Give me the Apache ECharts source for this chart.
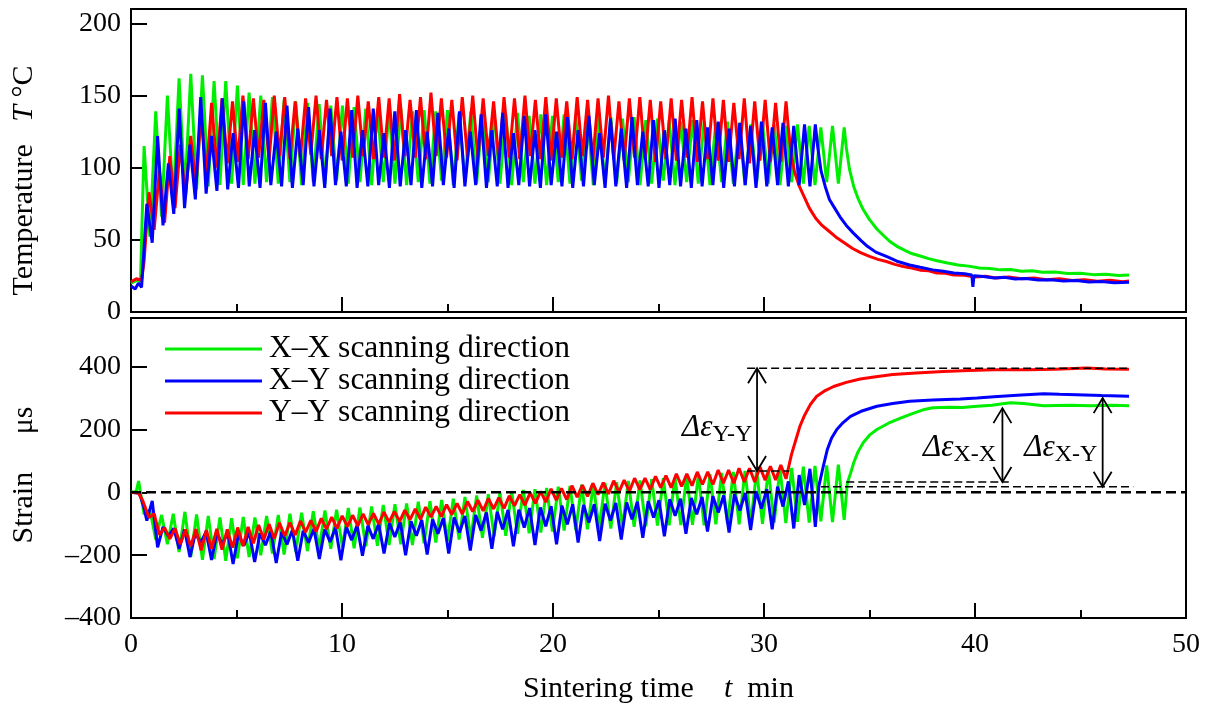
<!DOCTYPE html>
<html>
<head>
<meta charset="utf-8">
<script src="https://cdn.jsdelivr.net/npm/echarts@6/dist/echarts.min.js"></script>
<style>html,body{margin:0;background:#fff}#chart{width:1208px;height:705px}</style>
</head>
<body>
<div id="chart"></div>
<script>
var SERIF = '"Liberation Serif", "Times New Roman", serif';
var names = ['X–X scanning direction', 'X–Y scanning direction', 'Y–Y scanning direction'];

// cycle start (min) and cycle length (min) for each scan direction
var xxStart = 0.62, xxCycle = 0.553;
var xyStart = 0.75, xyCycle = 0.511;
var yyStart = 0.85, yyCycle = 0.495;

// temperature, degC: peaks at each cycle start, troughs half a cycle later
var xxTempPre = [[0, 20], [0.3, 22], [0.45, 21]];
var xxTempPeak = [115, 139, 150, 162, 165, 164, 160, 160, 157, 152,
  150, 149, 147, 146, 145, 144, 143, 143, 142, 141,
  141, 140, 141, 139, 140, 139, 140, 138, 139, 138,
  138, 137, 138, 136, 137, 136, 137, 135, 136, 135,
  135, 134, 135, 133, 134, 133, 132, 133, 132, 131,
  132, 131, 130, 131, 130, 129, 130, 129, 128, 129,
  128];
var xxTempLow = [52, 66, 76, 82, 85, 87, 88, 89, 88, 89,
  90, 89, 90, 88, 90, 89, 91, 89, 90, 88,
  90, 89, 88, 90, 89, 91, 88, 90, 89, 90,
  89, 88, 90, 89, 88, 90, 89, 91, 88, 90,
  89, 90, 88, 89, 91, 88, 90, 89, 88, 90,
  89, 88, 90, 89, 88, 90, 89, 88, 90, 89];
var xxCool = [[33.9, 114], [34.05, 99], [34.25, 87], [34.45, 79], [34.7, 71], [35.0, 64], [35.35, 57.5],
  [35.7, 52.5], [36.0, 48.5], [36.3, 45.5], [36.7, 42.5], [37.0, 40.5], [37.4, 38.8], [37.8, 37],
  [38.2, 35.5], [38.7, 34], [39.2, 32.6], [39.7, 31.8], [40.2, 30.5], [40.7, 30.2], [41.2, 29.2],
  [41.7, 29.4], [42.2, 28.3], [42.7, 28.6], [43.2, 27.5], [43.8, 27.8], [44.4, 26.7], [45.0, 26.9],
  [45.6, 25.9], [46.2, 26.2], [46.8, 25.3], [47.3, 25.6]];

var xyTempPre = [[0, 18], [0.2, 16], [0.35, 20], [0.5, 17], [0.6, 40]];
var xyTempPeak = [75, 122, 103, 141, 116, 149, 122, 148, 124, 146,
  126, 145, 125, 143, 127, 142, 126, 141, 125, 140,
  126, 141, 124, 139, 126, 140, 125, 138, 127, 139,
  125, 137, 126, 138, 124, 136, 126, 137, 125, 135,
  126, 136, 124, 134, 127, 135, 125, 133, 126, 134,
  127, 133, 128, 132, 127, 131, 129, 132, 128, 131,
  129, 130, 130];
var xyTempLow = [48, 60, 68, 72, 78, 82, 84, 85, 86, 87,
  86, 88, 87, 86, 88, 87, 86, 88, 87, 86,
  87, 88, 86, 87, 88, 86, 87, 88, 86, 87,
  88, 86, 87, 86, 88, 87, 86, 88, 87, 86,
  87, 88, 86, 87, 86, 88, 87, 86, 88, 87,
  86, 87, 88, 86, 87, 88, 86, 87, 88, 87,
  88, 87];
var xyCool = [[32.55, 114], [32.7, 98], [32.9, 87], [33.1, 78], [33.35, 72], [33.6, 66], [33.9, 60],
  [34.25, 54.5], [34.6, 49.5], [34.9, 45.5], [35.3, 41.5], [35.8, 38.5], [36.3, 35.2], [36.9, 32.6],
  [37.4, 31], [38.0, 29.2], [38.5, 28.2], [39.0, 27], [39.5, 26.5], [39.85, 25.6], [39.9, 17.5],
  [39.95, 25.2], [40.4, 24.6], [40.9, 23.6], [41.4, 24], [41.9, 22.8], [42.4, 23.2], [43.0, 22.2],
  [43.6, 22.4], [44.2, 21.4], [44.8, 21.8], [45.4, 20.8], [46.0, 21.2], [46.6, 20.2], [47.3, 20.6]];

var yyTempPre = [[0, 21], [0.25, 23], [0.5, 22], [0.62, 35]];
var yyTempPeak = [83, 98, 108, 116, 122, 137, 145, 148, 146, 150,
  148, 147, 150, 149, 146, 148, 150, 147, 149, 148,
  150, 146, 149, 148, 151, 147, 149, 152, 148, 147,
  149, 150, 148, 146, 149, 148, 150, 147, 149, 148,
  146, 149, 147, 148, 150, 146, 148, 149, 147, 146,
  148, 147, 149, 146, 148, 147, 145, 148, 146, 147,
  145, 146];
var yyTempLow = [57, 62, 72, 80, 88, 95, 100, 103, 104, 106,
  107, 105, 108, 106, 107, 109, 106, 108, 105, 107,
  108, 106, 107, 105, 108, 107, 106, 108, 107, 105,
  107, 106, 108, 105, 107, 106, 108, 106, 105, 107,
  106, 108, 105, 107, 106, 105, 107, 106, 104, 106,
  105, 107, 104, 106, 105, 104, 106, 103, 105, 104,
  104];
var yyCool = [[31.15, 128], [31.3, 108], [31.45, 97], [31.65, 88], [31.9, 80], [32.15, 72], [32.45, 65],
  [32.75, 60], [33.0, 57], [33.4, 52], [33.8, 48], [34.2, 44], [34.6, 41], [35.0, 38.5], [35.4, 36.5],
  [35.8, 35], [36.2, 33], [36.6, 31.5], [37.0, 30.5], [37.4, 29], [37.8, 28.5], [38.2, 27], [38.6, 26.8],
  [39.0, 25.6], [39.5, 25.4], [40.0, 24.2], [40.5, 24.8], [41.0, 23.6], [41.6, 24.2], [42.2, 23],
  [42.8, 23.6], [43.4, 22.4], [44.0, 23], [44.6, 21.8], [45.2, 22.4], [45.8, 21.4], [46.4, 22],
  [47.0, 21], [47.3, 21.5]];

// strain, microstrain: dips at each cycle start, highs half a cycle later
var xxStrainPre = [[0, 0], [0.25, 3], [0.36, 36], [0.46, -5]];
var xxStrainLow = [-70, -150, -165, -190, -205, -215, -212, -218, -210, -206,
  -200, -195, -198, -190, -187, -182, -180, -176, -178, -172,
  -170, -168, -165, -168, -162, -160, -155, -150, -148, -145,
  -140, -138, -132, -130, -128, -125, -122, -120, -118, -116,
  -115, -112, -110, -108, -106, -105, -104, -103, -105, -102,
  -100, -102, -98, -100, -96, -98, -94, -96, -92, -95,
  -88];
var xxStrainHigh = [-55, -72, -68, -62, -70, -75, -80, -82, -78, -80,
  -75, -72, -68, -65, -60, -58, -55, -50, -48, -45,
  -40, -38, -35, -30, -28, -24, -20, -15, -10, -6,
  0, 4, 8, 10, 14, 18, 20, 24, 26, 30,
  32, 36, 38, 42, 45, 48, 52, 55, 58, 62,
  65, 68, 70, 73, 76, 78, 82, 84, 86, 88];
var xxRise = [[33.95, 30], [34.1, 60], [34.25, 94], [34.45, 128], [34.7, 158], [35.0, 182], [35.35, 200],
  [35.9, 220], [36.5, 237], [37.0, 250], [37.6, 264], [38.0, 269], [38.8, 271], [39.4, 270], [40.1, 274],
  [40.8, 277], [41.3, 282], [41.7, 285], [42.3, 283], [43.25, 276], [44.5, 277], [45.5, 276],
  [46.5, 277], [47.3, 276]];

var xyStrainPre = [[0, 0], [0.4, -3], [0.6, -45]];
var xyStrainLow = [-90, -175, -140, -180, -206, -160, -215, -165, -228, -170,
  -222, -168, -225, -166, -218, -160, -212, -158, -216, -152,
  -202, -148, -195, -142, -200, -138, -198, -132, -195, -128,
  -185, -122, -180, -118, -172, -112, -168, -108, -165, -102,
  -160, -96, -155, -90, -150, -86, -145, -80, -140, -75,
  -132, -70, -125, -64, -128, -58, -120, -52, -118, -45,
  -115, -40, -110];
var xyStrainHigh = [-27, -110, -115, -118, -130, -125, -130, -128, -132, -126,
  -130, -124, -126, -120, -122, -116, -118, -112, -110, -105,
  -106, -100, -98, -94, -92, -88, -86, -82, -80, -75,
  -72, -64, -62, -56, -55, -50, -48, -44, -42, -38,
  -40, -38, -36, -34, -32, -30, -28, -25, -22, -20,
  -18, -15, -12, -10, -6, -2, 4, 10, 18, 35,
  55, 75];
var xyRise = [[32.6, 20], [32.8, 80], [33.0, 136], [33.2, 172], [33.45, 200], [33.75, 222], [34.1, 242],
  [34.6, 258], [35.35, 274], [36.1, 283], [36.9, 290], [38.0, 294], [39.3, 297], [40.1, 300],
  [40.9, 304], [42.0, 309], [43.25, 314], [44.0, 312], [44.8, 311], [46.0, 308], [47.3, 306]];

var yyStrainPre = [[0, 0], [0.35, -2], [0.55, -25]];
var yyStrainLow = [-80, -135, -148, -165, -172, -185, -180, -182, -176, -171,
  -162, -150, -147, -139, -136, -127, -125, -117, -115, -109,
  -107, -103, -101, -95, -93, -87, -86, -79, -77, -71,
  -69, -61, -59, -53, -51, -43, -41, -35, -31, -25,
  -23, -15, -13, -7, -5, 1, 3, 9, 9, 15,
  15, 19, 21, 25, 25, 29, 29, 33, 33, 39,
  39, 43];
var yyStrainHigh = [-68, -112, -115, -118, -117, -120, -116, -118, -112, -110,
  -104, -101, -97, -96, -91, -89, -83, -79, -75, -73,
  -69, -67, -63, -61, -57, -53, -47, -45, -39, -35,
  -29, -25, -19, -17, -11, -7, -1, 3, 11, 13,
  21, 23, 29, 31, 37, 39, 45, 45, 51, 53,
  59, 59, 65, 65, 71, 71, 77, 77, 81, 83,
  87];
var yyRise = [[31.3, 120], [31.5, 165], [31.7, 210], [31.9, 242], [32.2, 280], [32.5, 306], [32.9, 324],
  [33.3, 337], [33.9, 350], [34.56, 361], [35.3, 368], [36.1, 375], [37.2, 380], [38.5, 385],
  [39.7, 388], [40.9, 390], [42.5, 390], [43.8, 392], [45.3, 396], [46.2, 393], [47.3, 392]];

// annotation guides in strain coordinates
var guideLines = [[0, 0, 50, 0], [29.2, 395, 47.4, 395], [29.2, 68, 31.2, 68], [33.9, 33, 41.6, 33], [32.7, 18, 47.5, 18]];
var arrows = [[29.67, 395, 68], [41.3, 268, 33], [46.05, 300, 18]];
var deltaLabels = [[29.45, 205, 'Y-Y'], [41.0, 142, 'X-X'], [45.8, 142, 'X-Y']];

function build(pre, t0, step, first, second, tail) {
  var pts = pre.slice();
  for (var i = 0; i < first.length; i++) {
    pts.push([t0 + i * step, first[i]]);
    if (i < second.length) pts.push([t0 + (i + 0.5) * step, second[i]]);
  }
  return pts.concat(tail);
}

function line(name, color, idx, data) {
  return {
    type: 'line', name: name, xAxisIndex: idx, yAxisIndex: idx, data: data,
    symbol: 'none', showSymbol: false, animation: false,
    lineStyle: {width: 3, color: color}, itemStyle: {color: color}
  };
}

var green = '#00ee00', blue = '#0000ff', red = '#ff0000';
var axisLine = {onZero: false, lineStyle: {color: '#000', width: 2}};
var nameRich = {n: {fontFamily: SERIF, fontSize: 30, color: '#000'},
  i: {fontFamily: SERIF, fontSize: 30, fontStyle: 'italic', color: '#000'}};

function xAx(idx, labels) {
  var a = {
    gridIndex: idx, type: 'value', min: 0, max: 50, interval: 10,
    axisLine: axisLine,
    axisTick: {inside: true, length: 15, lineStyle: {color: '#000', width: 2}},
    minorTick: {show: true, splitNumber: 2, length: 8, lineStyle: {color: '#000', width: 2}},
    splitLine: {show: false},
    axisLabel: {show: labels, fontFamily: SERIF, fontSize: 28, color: '#000', margin: 13}
  };
  if (labels) {
    a.name = '{n|Sintering time    }{i|t}{n|  min}';
    a.nameLocation = 'middle';
    a.nameGap = 56;
    a.nameTextStyle = {rich: nameRich};
  }
  return a;
}

function yAx(idx, min, max, step, name, pad) {
  return {
    gridIndex: idx, type: 'value', min: min, max: max, interval: step,
    axisLine: axisLine,
    axisTick: {inside: true, length: 16, lineStyle: {color: '#000', width: 2}},
    splitLine: {show: false},
    axisLabel: {fontFamily: SERIF, fontSize: 28, color: '#000', margin: 10,
      formatter: function (v) {
        if (v % step !== 0) return '';
        return v < 0 ? '–' + Math.abs(v) : String(v);
      }},
    name: name, nameLocation: 'middle', nameGap: 92, nameRotate: 90,
    nameTextStyle: {rich: nameRich, padding: pad}
  };
}

var chart = echarts.init(document.getElementById('chart'));
chart.setOption({
  backgroundColor: '#fff',
  animation: false,
  grid: [
    {left: 131, right: 22, top: 9, height: 303, show: true, borderColor: '#000', borderWidth: 2},
    {left: 131, right: 22, top: 318, height: 303, show: true, borderColor: '#000', borderWidth: 2}
  ],
  legend: {
    data: names, orient: 'vertical', left: 160, top: 328,
    icon: 'rect', itemWidth: 97, itemHeight: 3, itemGap: 0,
    textStyle: {fontFamily: SERIF, fontSize: 31.5, lineHeight: 31, color: '#000', padding: [0, 0, 0, 2]}
  },
  xAxis: [xAx(0, false), xAx(1, true)],
  yAxis: [
    yAx(0, 0, 210, 50, '{n|Temperature   }{i|T}{n| °C}', [0, 40, 0, 0]),
    yAx(1, -400, 555, 200, '{n|Strain     μs}', [0, 14, 0, 0])
  ],
  series: [
    line(names[0], green, 0, build(xxTempPre, xxStart, xxCycle, xxTempPeak, xxTempLow, xxCool)),
    line(names[2], red, 0, build(yyTempPre, yyStart, yyCycle, yyTempPeak, yyTempLow, yyCool)),
    line(names[1], blue, 0, build(xyTempPre, xyStart, xyCycle, xyTempPeak, xyTempLow, xyCool)),
    line(names[0], green, 1, build(xxStrainPre, xxStart, xxCycle, xxStrainLow, xxStrainHigh, xxRise)),
    line(names[1], blue, 1, build(xyStrainPre, xyStart, xyCycle, xyStrainLow, xyStrainHigh, xyRise)),
    line(names[2], red, 1, build(yyStrainPre, yyStart, yyCycle, yyStrainLow, yyStrainHigh, yyRise))
  ]
});

// dashed guides, double arrows and delta labels placed through the strain axes
function px(t, s) { return chart.convertToPixel({gridIndex: 1}, [t, s]); }
var g = [];
guideLines.forEach(function (d, i) {
  var a = px(d[0], d[1]), b = px(d[2], d[3]);
  g.push({type: 'line', z: 100, shape: {x1: a[0], y1: a[1], x2: b[0], y2: b[1]},
    style: {stroke: '#000', lineWidth: i === 0 ? 2.5 : 1.5, lineDash: i === 0 ? [10, 5] : [8, 4]}});
});
arrows.forEach(function (d) {
  var top = px(d[0], d[1]), bot = px(d[0], d[2]);
  g.push({type: 'line', z: 100, shape: {x1: top[0], y1: top[1], x2: bot[0], y2: bot[1]},
    style: {stroke: '#000', lineWidth: 1.8}});
  g.push({type: 'polyline', z: 100, shape: {points: [[top[0] - 9, top[1] + 15], top, [top[0] + 9, top[1] + 15]]},
    style: {stroke: '#000', lineWidth: 1.8, fill: null}});
  g.push({type: 'polyline', z: 100, shape: {points: [[bot[0] - 9, bot[1] - 15], bot, [bot[0] + 9, bot[1] - 15]]},
    style: {stroke: '#000', lineWidth: 1.8, fill: null}});
});
deltaLabels.forEach(function (d) {
  var p = px(d[0], d[1]);
  g.push({type: 'text', z: 100, x: p[0], y: p[1],
    style: {text: '{a|Δε}{b|' + d[2] + '}', align: 'right', verticalAlign: 'middle',
      rich: {a: {fontFamily: SERIF, fontSize: 31, fontStyle: 'italic', fill: '#000'},
        b: {fontFamily: SERIF, fontSize: 24, fill: '#000', padding: [14, 0, 0, 0]}}}});
});
chart.setOption({graphic: g});
</script>
</body>
</html>
